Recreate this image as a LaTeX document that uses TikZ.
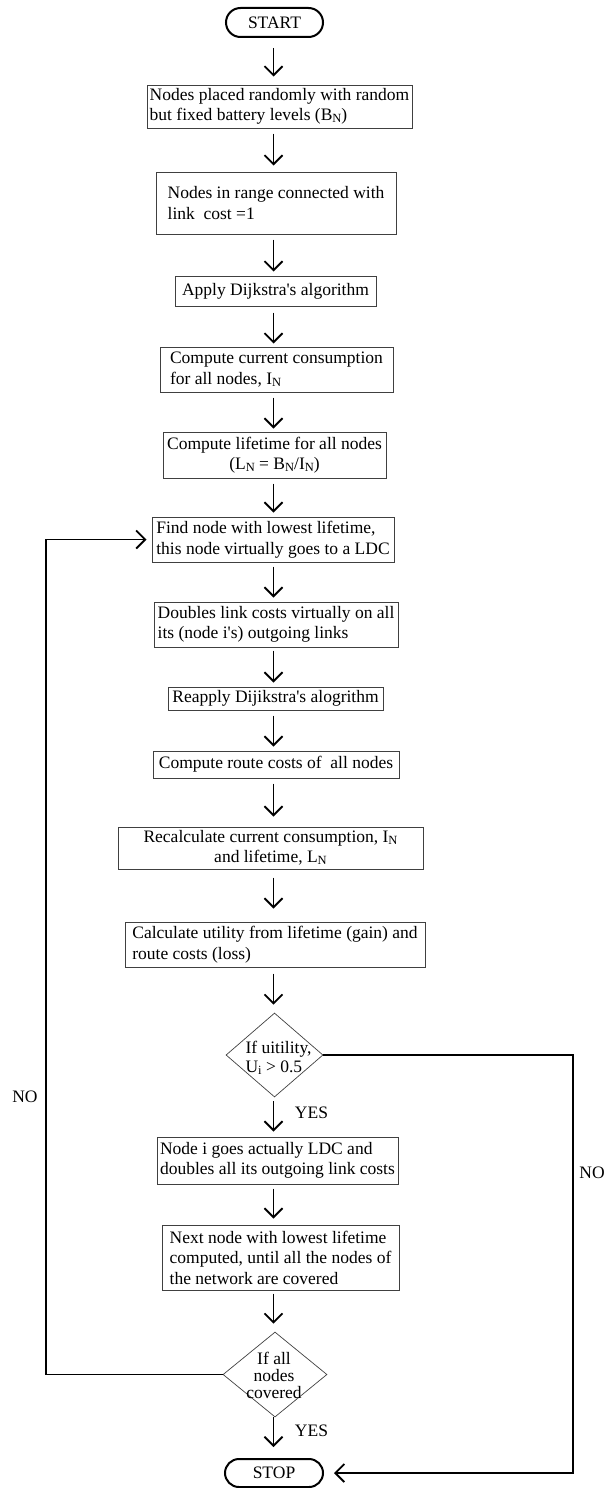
\documentclass[tikz,border=0pt]{standalone}
\usepackage{fontspec}
\setmainfont{Liberation Serif}
\usetikzlibrary{arrows.meta,shapes.geometric,shapes.misc}
% small lowered index letter, as in B_N or U_i
\newcommand\idx[1]{\raisebox{-2pt}{\fontsize{12.5}{12.5}\selectfont #1}}
\begin{document}
\begin{tikzpicture}[x=1pt,y=-1pt,
  font=\fontsize{17.5}{20.5}\selectfont,
  proc/.style={draw=black!75, line width=1pt, rectangle, inner sep=0pt, align=left},
  term/.style={draw=black, line width=2pt, rounded rectangle, inner sep=0pt},
  dec/.style={draw=black!75, line width=0.7pt, diamond, inner sep=0pt},
  flow/.style={line width=1.8pt, shorten <=5pt, shorten >=4pt,
    -{Straight Barb[length=9pt,width=18pt,line width=1.8pt]}},
  lbl/.style={inner sep=0pt}
]
\useasboundingbox (0,0) rectangle (606,1488);

% terminals
\node[term, minimum width=97pt, minimum height=29pt] (start) at (274.5,22.5) {START};
\node[term, minimum width=98pt, minimum height=28pt] (stop) at (274,1473) {STOP};

% process steps
\node[proc, minimum width=265pt, minimum height=43pt] (b1) at (279.5,106.5)
  {Nodes placed randomly with random\\but fixed battery levels (B\idx{N})};
\node[proc, minimum width=240pt, minimum height=62pt] (b2) at (276,203)
  {Nodes in range connected with\\link\ \ cost =1};
\node[proc, minimum width=201pt, minimum height=30pt] (b3) at (275.5,291)
  {Apply Dijkstra\textquotesingle s algorithm};
\node[proc, minimum width=233pt, minimum height=45pt] (b4) at (276.5,369.5)
  {Compute current consumption\\for all nodes, I\idx{N}};
\node[proc, align=center, minimum width=223pt, minimum height=46pt] (b5) at (274.5,455)
  {Compute lifetime for all nodes\\(L\idx{N} = B\idx{N}/I\idx{N})};
\node[proc, minimum width=242pt, minimum height=45pt] (b6) at (273,539.5)
  {Find node with lowest lifetime,\\this node virtually goes to a LDC};
\node[proc, minimum width=244pt, minimum height=45pt] (b7) at (276,624.5)
  {Doubles link costs virtually on all\\its (node i\textquotesingle s) outgoing links};
\node[proc, minimum width=215pt, minimum height=23pt] (b8) at (275.5,698.5)
  {Reapply Dijikstra\textquotesingle s alogrithm};
\node[proc, minimum width=246pt, minimum height=27pt] (b9) at (276,764.5)
  {Compute route costs of\ \ all nodes};
\node[proc, align=center, minimum width=305pt, minimum height=42pt] (b10) at (270.5,848)
  {Recalculate current consumption, I\idx{N}\\and lifetime, L\idx{N}};
\node[proc, minimum width=300pt, minimum height=45pt] (b11) at (275,944.5)
  {Calculate utility from lifetime (gain) and\\route costs (loss)};
\node[proc, minimum width=241pt, minimum height=47pt] (b12) at (277.5,1160.5)
  {Node i goes actually LDC and\\doubles all its outgoing link costs};
\node[proc, minimum width=237pt, minimum height=65pt] (b13) at (280.5,1257.5)
  {Next node with lowest lifetime\\computed, until all the nodes of\\the network are covered};

% decisions
\node[dec, minimum width=97pt, minimum height=84pt] (d1) at (274.5,1055) {};
\node[lbl, align=left, font=\fontsize{17.5}{19}\selectfont] (d1t) at (278.5,1058)
  {If uitility,\\U\idx{i} > 0.5};
\node[dec, minimum width=104pt, minimum height=85pt] (d2) at (275,1374.5) {};
\node[lbl, align=center, font=\fontsize{17.5}{17}\selectfont] (d2t) at (274,1375)
  {If all\\nodes\\covered};

% branch labels
\node[lbl] (yes1) at (311.5,1113) {YES};
\node[lbl] (yes2) at (311.5,1431) {YES};
\node[lbl] (no1) at (25,1097) {NO};
\node[lbl] (no2) at (592,1173) {NO};

% columns used by the connectors
\coordinate (ax) at (273.5,0);
\coordinate (lc) at (46,0);
\coordinate (rc) at (573,0);

% main flow
\draw[flow, shorten <=10pt, shorten >=8pt] (start.south -| ax) -- (b1.north -| ax);
\draw[flow, shorten >=6pt] (b1.south -| ax) -- (b2.north -| ax);
\draw[flow] (b2.south -| ax) -- (b3.north -| ax);
\draw[flow, shorten <=6pt, shorten >=3pt] (b3.south -| ax) -- (b4.north -| ax);
\draw[flow, shorten >=3pt] (b4.south -| ax) -- (b5.north -| ax);
\draw[flow] (b5.south -| ax) -- (b6.north -| ax);
\draw[flow, shorten <=4pt] (b6.south -| ax) -- (b7.north -| ax);
\draw[flow, shorten <=3pt] (b7.south -| ax) -- (b8.north -| ax);
\draw[flow] (b8.south -| ax) -- (b9.north -| ax);
\draw[flow, shorten >=10pt] (b9.south -| ax) -- (b10.north -| ax);
\draw[flow, shorten <=8pt, shorten >=13pt] (b10.south -| ax) -- (b11.north -| ax);
\draw[flow, shorten <=6pt, shorten >=8pt] (b11.south -| ax) -- (d1.north -| ax);
\draw[flow, shorten <=4pt, shorten >=5pt] (d1.south -| ax) -- (b12.north -| ax);
\draw[flow, shorten <=4pt, shorten >=6pt] (b12.south -| ax) -- (b13.north -| ax);
\draw[flow, shorten <=3pt, shorten >=8pt] (b13.south -| ax) -- (d2.north -| ax);
\draw[flow, shorten <=0pt, shorten >=11pt] (d2.south -| ax) -- (stop.north -| ax);

% loop back when not all nodes are covered
\draw[flow, shorten <=0pt, shorten >=5pt] (d2.west) -- (d2.west -| lc) |- (b6.west);
% utility too low: go straight to the end
\draw[flow, shorten <=0pt, shorten >=10pt] (d1.east) -- (d1.east -| rc) |- (stop.east);
\end{tikzpicture}
\end{document}
